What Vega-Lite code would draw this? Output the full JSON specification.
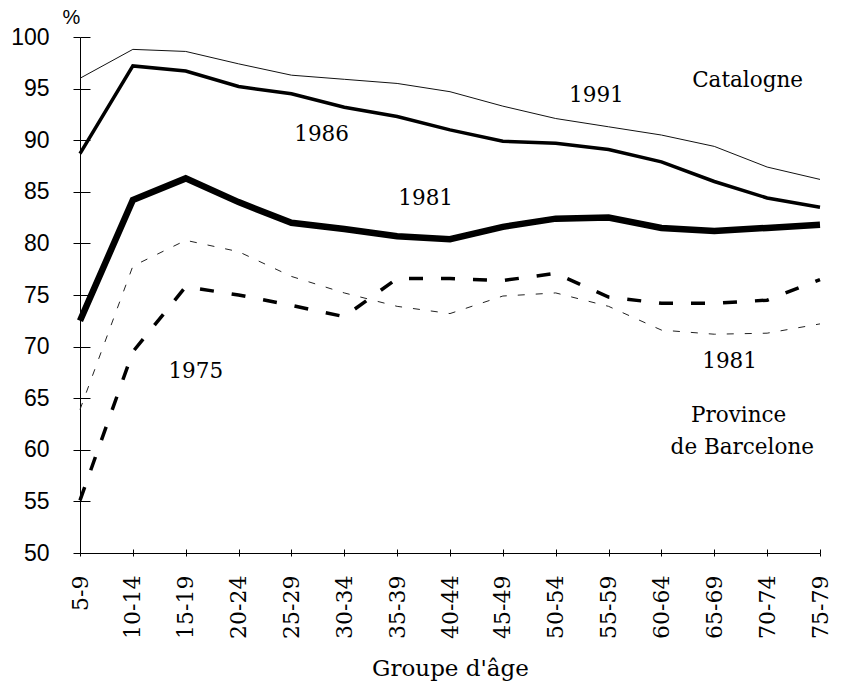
{
  "$schema": "https://vega.github.io/schema/vega-lite/v6.json",
  "width": 740,
  "height": 516,
  "autosize": {"type": "none"},
  "padding": {"left": 80, "top": 37, "right": 22, "bottom": 136},
  "background": "white",
  "config": {
    "view": {"stroke": null},
    "axis": {"grid": false, "domainColor": "black", "tickColor": "black", "labelColor": "black", "titleColor": "black", "domainWidth": 1, "tickWidth": 1}
  },
  "datasets": {
    "lines": [
      {"series": "Catalogne 1991", "age": "5-9", "i": 0, "value": 96.0},
      {"series": "Catalogne 1991", "age": "10-14", "i": 1, "value": 98.8},
      {"series": "Catalogne 1991", "age": "15-19", "i": 2, "value": 98.6},
      {"series": "Catalogne 1991", "age": "20-24", "i": 3, "value": 97.4},
      {"series": "Catalogne 1991", "age": "25-29", "i": 4, "value": 96.3},
      {"series": "Catalogne 1991", "age": "30-34", "i": 5, "value": 95.9},
      {"series": "Catalogne 1991", "age": "35-39", "i": 6, "value": 95.5},
      {"series": "Catalogne 1991", "age": "40-44", "i": 7, "value": 94.7},
      {"series": "Catalogne 1991", "age": "45-49", "i": 8, "value": 93.3},
      {"series": "Catalogne 1991", "age": "50-54", "i": 9, "value": 92.1},
      {"series": "Catalogne 1991", "age": "55-59", "i": 10, "value": 91.3},
      {"series": "Catalogne 1991", "age": "60-64", "i": 11, "value": 90.5},
      {"series": "Catalogne 1991", "age": "65-69", "i": 12, "value": 89.4},
      {"series": "Catalogne 1991", "age": "70-74", "i": 13, "value": 87.4},
      {"series": "Catalogne 1991", "age": "75-79", "i": 14, "value": 86.2},
      {"series": "Catalogne 1986", "age": "5-9", "i": 0, "value": 88.7},
      {"series": "Catalogne 1986", "age": "10-14", "i": 1, "value": 97.2},
      {"series": "Catalogne 1986", "age": "15-19", "i": 2, "value": 96.7},
      {"series": "Catalogne 1986", "age": "20-24", "i": 3, "value": 95.2},
      {"series": "Catalogne 1986", "age": "25-29", "i": 4, "value": 94.5},
      {"series": "Catalogne 1986", "age": "30-34", "i": 5, "value": 93.2},
      {"series": "Catalogne 1986", "age": "35-39", "i": 6, "value": 92.3},
      {"series": "Catalogne 1986", "age": "40-44", "i": 7, "value": 91.0},
      {"series": "Catalogne 1986", "age": "45-49", "i": 8, "value": 89.9},
      {"series": "Catalogne 1986", "age": "50-54", "i": 9, "value": 89.7},
      {"series": "Catalogne 1986", "age": "55-59", "i": 10, "value": 89.1},
      {"series": "Catalogne 1986", "age": "60-64", "i": 11, "value": 87.9},
      {"series": "Catalogne 1986", "age": "65-69", "i": 12, "value": 86.0},
      {"series": "Catalogne 1986", "age": "70-74", "i": 13, "value": 84.4},
      {"series": "Catalogne 1986", "age": "75-79", "i": 14, "value": 83.5},
      {"series": "Catalogne 1981", "age": "5-9", "i": 0, "value": 72.5},
      {"series": "Catalogne 1981", "age": "10-14", "i": 1, "value": 84.2},
      {"series": "Catalogne 1981", "age": "15-19", "i": 2, "value": 86.3},
      {"series": "Catalogne 1981", "age": "20-24", "i": 3, "value": 84.0},
      {"series": "Catalogne 1981", "age": "25-29", "i": 4, "value": 82.0},
      {"series": "Catalogne 1981", "age": "30-34", "i": 5, "value": 81.4},
      {"series": "Catalogne 1981", "age": "35-39", "i": 6, "value": 80.7},
      {"series": "Catalogne 1981", "age": "40-44", "i": 7, "value": 80.4},
      {"series": "Catalogne 1981", "age": "45-49", "i": 8, "value": 81.6},
      {"series": "Catalogne 1981", "age": "50-54", "i": 9, "value": 82.4},
      {"series": "Catalogne 1981", "age": "55-59", "i": 10, "value": 82.5},
      {"series": "Catalogne 1981", "age": "60-64", "i": 11, "value": 81.5},
      {"series": "Catalogne 1981", "age": "65-69", "i": 12, "value": 81.2},
      {"series": "Catalogne 1981", "age": "70-74", "i": 13, "value": 81.5},
      {"series": "Catalogne 1981", "age": "75-79", "i": 14, "value": 81.8},
      {"series": "Barcelone 1981", "age": "5-9", "i": 0, "value": 63.9},
      {"series": "Barcelone 1981", "age": "10-14", "i": 1, "value": 77.8},
      {"series": "Barcelone 1981", "age": "15-19", "i": 2, "value": 80.3},
      {"series": "Barcelone 1981", "age": "20-24", "i": 3, "value": 79.2},
      {"series": "Barcelone 1981", "age": "25-29", "i": 4, "value": 76.8},
      {"series": "Barcelone 1981", "age": "30-34", "i": 5, "value": 75.2},
      {"series": "Barcelone 1981", "age": "35-39", "i": 6, "value": 73.9},
      {"series": "Barcelone 1981", "age": "40-44", "i": 7, "value": 73.2},
      {"series": "Barcelone 1981", "age": "45-49", "i": 8, "value": 74.9},
      {"series": "Barcelone 1981", "age": "50-54", "i": 9, "value": 75.2},
      {"series": "Barcelone 1981", "age": "55-59", "i": 10, "value": 73.9},
      {"series": "Barcelone 1981", "age": "60-64", "i": 11, "value": 71.6},
      {"series": "Barcelone 1981", "age": "65-69", "i": 12, "value": 71.2},
      {"series": "Barcelone 1981", "age": "70-74", "i": 13, "value": 71.3},
      {"series": "Barcelone 1981", "age": "75-79", "i": 14, "value": 72.2},
      {"series": "Barcelone 1975", "age": "5-9", "i": 0, "value": 55.1},
      {"series": "Barcelone 1975", "age": "10-14", "i": 1, "value": 69.5},
      {"series": "Barcelone 1975", "age": "15-19", "i": 2, "value": 75.8},
      {"series": "Barcelone 1975", "age": "20-24", "i": 3, "value": 75.0},
      {"series": "Barcelone 1975", "age": "25-29", "i": 4, "value": 74.0},
      {"series": "Barcelone 1975", "age": "30-34", "i": 5, "value": 72.9},
      {"series": "Barcelone 1975", "age": "35-39", "i": 6, "value": 76.6},
      {"series": "Barcelone 1975", "age": "40-44", "i": 7, "value": 76.6},
      {"series": "Barcelone 1975", "age": "45-49", "i": 8, "value": 76.4},
      {"series": "Barcelone 1975", "age": "50-54", "i": 9, "value": 77.1},
      {"series": "Barcelone 1975", "age": "55-59", "i": 10, "value": 74.8},
      {"series": "Barcelone 1975", "age": "60-64", "i": 11, "value": 74.2},
      {"series": "Barcelone 1975", "age": "65-69", "i": 12, "value": 74.2},
      {"series": "Barcelone 1975", "age": "70-74", "i": 13, "value": 74.5},
      {"series": "Barcelone 1975", "age": "75-79", "i": 14, "value": 76.5}
    ],
    "labels": [
      {"label": "1991", "tx": 9.77, "ty": 93.7},
      {"label": "Catalogne", "tx": 12.63, "ty": 95.16},
      {"label": "1986", "tx": 4.57, "ty": 89.92},
      {"label": "1981", "tx": 6.54, "ty": 83.72},
      {"label": "1975", "tx": 2.19, "ty": 66.96},
      {"label": "1981", "tx": 12.29, "ty": 67.93},
      {"label": "Province", "tx": 12.46, "ty": 62.69},
      {"label": "de Barcelone", "tx": 12.53, "ty": 59.59}
    ]
  },
  "layer": [
    {
      "data": {"name": "lines"},
      "transform": [{"filter": "datum.series === 'Catalogne 1991'"}],
      "mark": {"type": "line", "color": "#111", "strokeWidth": 1},
      "encoding": {
        "x": {"field": "i", "type": "quantitative", "scale": {"domain": [0, 14], "nice": false, "zero": false},
          "axis": {"orient": "bottom", "values": [0,1,2,3,4,5,6,7,8,9,10,11,12,13,14],
            "labelExpr": "['5-9','10-14','15-19','20-24','25-29','30-34','35-39','40-44','45-49','50-54','55-59','60-64','65-69','70-74','75-79'][datum.value]",
            "labelAngle": -90, "labelAlign": "right", "labelBaseline": "middle", "labelFont": "DejaVu Serif", "labelFontSize": 22,
            "labelPadding": 19, "labelOverlap": false, "labelFlush": false, "tickSize": 3,
            "title": "Groupe d'âge", "titleFont": "DejaVu Serif", "titleFontSize": 23, "titleFontWeight": "normal", "titlePadding": 19}},
        "y": {"field": "value", "type": "quantitative", "scale": {"domain": [50, 100], "nice": false, "zero": false},
          "axis": {"orient": "left", "values": [50,55,60,65,70,75,80,85,90,95,100], "tickSize": 7,
            "labelFont": "Liberation Sans", "labelFontSize": 23, "labelPadding": 24, "labelFlush": false,
            "title": "%", "titleAngle": 0, "titleFont": "Liberation Sans", "titleFontSize": 20, "titleFontWeight": "normal",
            "titleX": -9, "titleY": -14, "titleAlign": "center", "titleBaseline": "alphabetic"}}
      }
    },
    {
      "data": {"name": "lines"},
      "transform": [{"filter": "datum.series === 'Catalogne 1986'"}],
      "mark": {"type": "line", "color": "#000", "strokeWidth": 3.5},
      "encoding": {
        "x": {"field": "i", "type": "quantitative", "scale": {"domain": [0, 14], "nice": false, "zero": false}, "axis": null},
        "y": {"field": "value", "type": "quantitative", "scale": {"domain": [50, 100], "nice": false, "zero": false}, "axis": null}
      }
    },
    {
      "data": {"name": "lines"},
      "transform": [{"filter": "datum.series === 'Catalogne 1981'"}],
      "mark": {"type": "line", "color": "#000", "strokeWidth": 6.5},
      "encoding": {
        "x": {"field": "i", "type": "quantitative", "scale": {"domain": [0, 14], "nice": false, "zero": false}, "axis": null},
        "y": {"field": "value", "type": "quantitative", "scale": {"domain": [50, 100], "nice": false, "zero": false}, "axis": null}
      }
    },
    {
      "data": {"name": "lines"},
      "transform": [{"filter": "datum.series === 'Barcelone 1981'"}],
      "mark": {"type": "line", "color": "#222", "strokeWidth": 1, "strokeDash": [7, 11]},
      "encoding": {
        "x": {"field": "i", "type": "quantitative", "scale": {"domain": [0, 14], "nice": false, "zero": false}, "axis": null},
        "y": {"field": "value", "type": "quantitative", "scale": {"domain": [50, 100], "nice": false, "zero": false}, "axis": null}
      }
    },
    {
      "data": {"name": "lines"},
      "transform": [{"filter": "datum.series === 'Barcelone 1975'"}],
      "mark": {"type": "line", "color": "#000", "strokeWidth": 3.5, "strokeDash": [14, 18]},
      "encoding": {
        "x": {"field": "i", "type": "quantitative", "scale": {"domain": [0, 14], "nice": false, "zero": false}, "axis": null},
        "y": {"field": "value", "type": "quantitative", "scale": {"domain": [50, 100], "nice": false, "zero": false}, "axis": null}
      }
    },
    {
      "data": {"name": "labels"},
      "mark": {"type": "text", "font": "DejaVu Serif", "fontSize": 21.5, "color": "#000", "align": "center", "baseline": "alphabetic"},
      "encoding": {
        "x": {"field": "tx", "type": "quantitative", "scale": {"domain": [0, 14], "nice": false, "zero": false},
          "axis": {"orient": "bottom", "offset": -4, "tickSize": 4, "labels": false, "domain": false, "title": null, "values": [0,1,2,3,4,5,6,7,8,9,10,11,12,13,14]}},
        "y": {"field": "ty", "type": "quantitative", "scale": {"domain": [50, 100], "nice": false, "zero": false},
          "axis": {"orient": "left", "offset": -10, "tickSize": 10, "labels": false, "domain": false, "title": null, "values": [50,55,60,65,70,75,80,85,90,95,100]}},
        "text": {"field": "label", "type": "nominal"}
      }
    }
  ],
  "resolve": {"axis": {"x": "independent", "y": "independent"}}
}
